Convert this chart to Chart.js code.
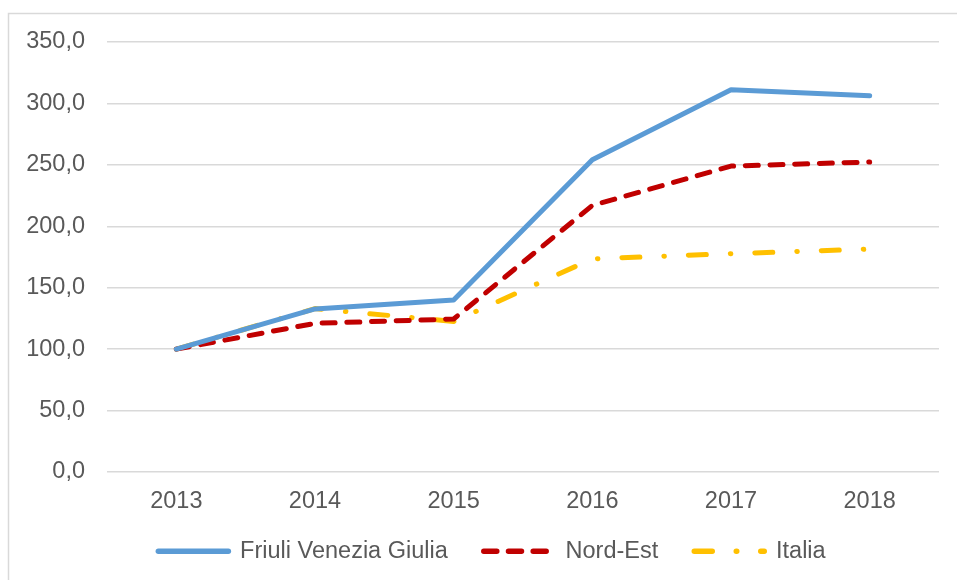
<!DOCTYPE html>
<html>
<head>
<meta charset="utf-8">
<script src="https://cdn.jsdelivr.net/npm/chart.js@4/dist/chart.umd.min.js"></script>
<style>
    body { margin: 0; background: white; }
    #wrap { position: relative; width: 957px; height: 580px; }
</style>
</head>
<body>
<div id="wrap"><canvas id="chart"></canvas></div>
<script>
const years = ['2013', '2014', '2015', '2016', '2017', '2018'];
const friuli = [100, 132.7, 140.0, 254.2, 311.2, 306.2];
const nordEst = [100, 121.0, 124.5, 217.0, 249.0, 252.3];
const italia = [100, 133.0, 122.5, 173.5, 177.7, 181.5];

const textColor = '#595959';
const font = { family: '"Liberation Sans", Arial, sans-serif', size: 23.5 };

// light frame on the left and top edges, like the cropped original
const framePlugin = {
    id: 'frame',
    beforeDraw(chart) {
        const ctx = chart.ctx;
        ctx.save();
        ctx.strokeStyle = '#d9d9d9';
        ctx.lineWidth = 1.5;
        ctx.beginPath();
        ctx.moveTo(8.5, 580);
        ctx.lineTo(8.5, 13.5);
        ctx.lineTo(957, 13.5);
        ctx.stroke();
        ctx.restore();
    }
};

// legend sits a bit right of the canvas centre and closer to the axis
const legendShift = {
    id: 'legendShift',
    afterLayout(chart) {
        const lg = chart.legend;
        lg.left = 45;
        lg.top -= 12.5;
        lg.bottom -= 12.5;
    }
};

const lineStyle = {
    borderWidth: 5,
    pointRadius: 0,
    tension: 0,
    fill: false,
    borderCapStyle: 'round',
    borderJoinStyle: 'round'
};

const data = {
    labels: years,
    datasets: [
        { label: 'Friuli Venezia Giulia', data: friuli, borderColor: '#5B9BD5', backgroundColor: '#5B9BD5', ...lineStyle },
        { label: 'Nord-Est', data: nordEst, borderColor: '#C00000', backgroundColor: '#C00000', borderDash: [13, 11.7], ...lineStyle },
        { label: 'Italia', data: italia, borderColor: '#FFC000', backgroundColor: '#FFC000', borderDash: [18, 24, 0.5, 24], ...lineStyle }
    ]
};

function legendLabels(chart) {
    const items = Chart.defaults.plugins.legend.labels.generateLabels(chart);
    items.forEach((item, i) => {
        const ds = chart.data.datasets[i];
        item.lineDash = ds.borderDash || [];
        item.lineCap = 'round';
        item.strokeStyle = ds.borderColor;
        item.lineWidth = 5.5;
    });
    return items;
}

const config = {
    type: 'line',
    data: data,
    plugins: [framePlugin, legendShift],
    options: {
        responsive: true,
        maintainAspectRatio: false,
        animation: false,
        layout: {
            padding: { left: 25, right: 18, top: 42, bottom: -5.5 }
        },
        plugins: {
            legend: {
                position: 'bottom',
                labels: {
                    usePointStyle: true,
                    pointStyle: 'line',
                    pointStyleWidth: 70,
                    padding: 36,
                    color: textColor,
                    font: font,
                    generateLabels: legendLabels
                }
            },
            tooltip: { enabled: false }
        },
        scales: {
            x: {
                offset: true,
                grid: { display: false },
                border: { display: false },
                ticks: {
                    color: textColor,
                    font: font,
                    padding: 7,
                    maxRotation: 0,
                    minRotation: 0
                },
                afterFit(scale) {
                    scale.height = 44;
                }
            },
            y: {
                min: 0,
                max: 350,
                border: { display: false },
                grid: {
                    color: '#d9d9d9',
                    lineWidth: 1.5,
                    drawTicks: false
                },
                ticks: {
                    stepSize: 50,
                    color: textColor,
                    font: font,
                    padding: 22,
                    callback: value => value.toFixed(1).replace('.', ',')
                },
                afterFit(scale) {
                    scale.width = 82;
                }
            }
        }
    }
};

const chart = new Chart(document.getElementById('chart'), config);
</script>
</body>
</html>
